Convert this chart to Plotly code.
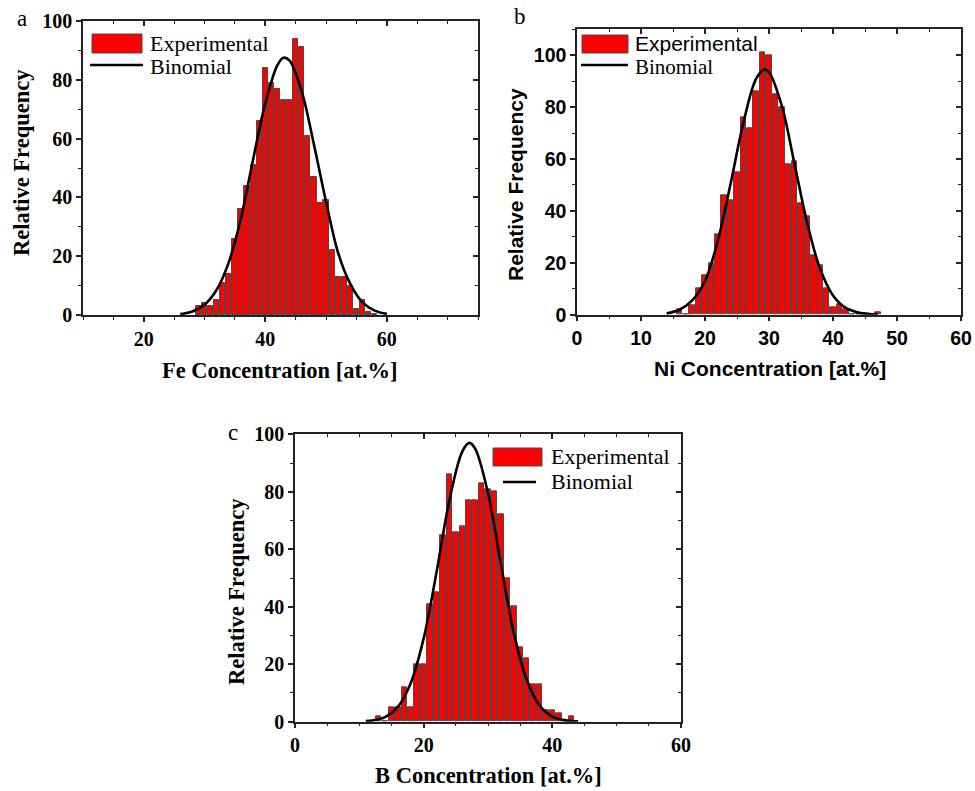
import plotly.graph_objects as go

# ---------------- data ----------------
fe_x = list(range(29, 59))
fe_y = [3, 4, 3, 5, 11, 14, 26, 36, 44, 51, 66, 84, 79, 77, 73, 73, 94, 91, 61, 47,
        38, 39, 22, 13, 13, 10, 2, 5, 1, 0.5]
fe_fit_x = [26, 28, 30, 32, 34, 36, 38, 40, 42, 43, 44, 46, 48, 50, 52, 54, 56, 58, 60]
fe_fit_y = [0.3, 1.2, 3.5, 8.6, 18, 33, 53, 72, 85, 87.5, 86.5, 76, 58, 38.5, 21, 10.5, 4.3, 1.5, 0.4]

ni_x = list(range(16, 48))
ni_y = [2, 0, 3.5, 10, 15, 20, 31, 46, 44, 55, 76, 72, 86, 101, 100, 85, 80, 58, 59, 43,
        38, 23, 19, 10, 3, 4, 2, 0, 0, 0, 0, 0.8]
ni_fit_x = [14, 16, 18, 20, 22, 24, 26, 28, 29.3, 30, 32, 34, 36, 38, 40, 42, 44, 46, 47]
ni_fit_y = [0.5, 1.9, 5.5, 13, 28.5, 50.5, 74, 91, 94.5, 93.5, 80.5, 58, 35, 17.6, 7.4, 2.6, 0.8, 0.2, 0.1]

b_x = list(range(13, 44))
b_y = [2, 0, 5, 5, 12, 5, 20, 20, 41, 45, 65, 86, 66, 68, 77, 77, 83, 81, 80, 72,
       50, 40, 26, 22, 13, 13, 4, 4, 3, 0, 2]
b_fit_x = [11, 12, 14, 16, 18, 20, 22, 24, 26, 27.1, 28, 30, 32, 34, 36, 38, 40, 42, 44]
b_fit_y = [0.2, 0.4, 1.6, 5.2, 13.5, 29, 52, 77, 94, 97, 95, 79.5, 55, 31, 14.7, 5.7, 1.8, 0.5, 0.1]

panel_labels = ["a", "b", "c"]
x_titles = ["Fe Concentration [at.%]", "Ni Concentration [at.%]", "B Concentration [at.%]"]
y_title = "Relative Frequency"
legend_names = ["Experimental", "Binomial"]

# ---------------- layout geometry ----------------
W, H = 975, 791
SERIF = "Liberation Serif"
SANS = "Liberation Sans"
AX = "#222222"


def px(xp):
    return xp / W


def py(yp):
    return 1 - yp / H


panels = [
    dict(bx=fe_x, by=fe_y, fx=fe_fit_x, fy=fe_fit_y,
         xdom=[px(83), px(478)], ydom=[py(315), py(21)],
         xr=[10, 75], xd=20, xm=5, yr=[0, 100], yd=20, ym=10, font=SERIF,
         tick=20, title=22.5, legsize=22,
         label=(22, 18), xt=(280, 370), yt=(22, 163),
         leg=dict(rect=(92, 34, 142, 53), line=(90, 143, 65), tx=148, ty1=43.5, ty2=66.5,
                  f1=SERIF, f2=SERIF)),
    dict(bx=ni_x, by=ni_y, fx=ni_fit_x, fy=ni_fit_y,
         xdom=[px(577), px(961)], ydom=[py(314.7), py(29.3)],
         xr=[0, 60], xd=10, xm=5, yr=[0, 110], yd=20, ym=10, font=SANS,
         tick=19.5, title=21, legsize=21,
         label=(520, 16), xt=(770, 368), yt=(516, 185),
         leg=dict(rect=(582, 35, 628, 53), line=(581, 628, 65), tx=633, ty1=43.5, ty2=66.5,
                  f1=SANS, f2=SERIF)),
    dict(bx=b_x, by=b_y, fx=b_fit_x, fy=b_fit_y,
         xdom=[px(295), px(681)], ydom=[py(721.7), py(434.3)],
         xr=[0, 60], xd=20, xm=5, yr=[0, 100], yd=20, ym=10, font=SERIF,
         tick=20, title=22.5, legsize=22,
         label=(233, 432), xt=(488, 775), yt=(236, 592),
         leg=dict(rect=(493, 448, 542, 466), line=(503, 536, 482), tx=549, ty1=456.5, ty2=481.5,
                  f1=SERIF, f2=SERIF)),
]

fig = go.Figure()
layout = dict(width=W, height=H, margin=dict(l=0, r=0, t=0, b=0, autoexpand=False),
              paper_bgcolor="white", plot_bgcolor="white", showlegend=False,
              bargap=0)
shapes = []
annotations = []

for i, p in enumerate(panels):
    n = i + 1
    m = i + 4
    xa = "x" if n == 1 else f"x{n}"
    ya = "y" if n == 1 else f"y{n}"
    xk = "xaxis" if n == 1 else f"xaxis{n}"
    yk = "yaxis" if n == 1 else f"yaxis{n}"

    fig.add_trace(go.Bar(x=p["bx"], y=p["by"], width=0.86, xaxis=xa, yaxis=ya,
                         marker=dict(color="#ff0000", line=dict(color="#4a4a4a", width=1))))
    fig.add_trace(go.Scatter(x=p["fx"], y=p["fy"], mode="lines", xaxis=xa, yaxis=ya,
                             line=dict(color="black", width=2.6, shape="spline")))
    # invisible trace carrying the mirror (inside-tick) axes
    fig.add_trace(go.Scatter(x=p["fx"], y=p["fy"], mode="lines", xaxis=f"x{m}", yaxis=f"y{m}",
                             opacity=0, hoverinfo="skip"))

    tf = dict(family=p["font"], size=p["tick"], color="black", weight=700)
    common_x = dict(range=p["xr"], dtick=p["xd"], tick0=0, showgrid=False, zeroline=False,
                    automargin=False)
    common_y = dict(range=p["yr"], dtick=p["yd"], tick0=0, showgrid=False, zeroline=False,
                    automargin=False)

    layout[xk] = dict(domain=p["xdom"], anchor=ya, showline=True, linecolor=AX, linewidth=1.5,
                      mirror=True, ticks="outside", ticklen=5, tickwidth=1.5, tickcolor=AX,
                      tickfont=tf,
                      minor=dict(dtick=p["xm"], ticks="outside", ticklen=3, tickwidth=1.2,
                                 tickcolor=AX),
                      **common_x)
    layout[yk] = dict(domain=p["ydom"], anchor=xa, showline=True, linecolor=AX, linewidth=1.5,
                      mirror=True, ticks="outside", ticklen=5, tickwidth=1.5, tickcolor=AX,
                      tickfont=tf,
                      minor=dict(dtick=p["ym"], ticks="outside", ticklen=3, tickwidth=1.2,
                                 tickcolor=AX),
                      **common_y)
    layout[f"xaxis{m}"] = dict(overlaying=xa, side="top", anchor=f"y{m}", showline=False,
                               ticks="inside", ticklen=5, tickwidth=1.5, tickcolor=AX,
                               showticklabels=False,
                               minor=dict(dtick=p["xm"], ticks="inside", ticklen=3,
                                          tickwidth=1.2, tickcolor=AX),
                               **common_x)
    layout[f"yaxis{m}"] = dict(overlaying=ya, side="right", anchor=f"x{m}", showline=False,
                               ticks="inside", ticklen=5, tickwidth=1.5, tickcolor=AX,
                               showticklabels=False,
                               minor=dict(dtick=p["ym"], ticks="inside", ticklen=3,
                                          tickwidth=1.2, tickcolor=AX),
                               **common_y)

    def ann(text, xy, font, **kw):
        d = dict(text=text, x=px(xy[0]), y=py(xy[1]), xref="paper", yref="paper",
                 showarrow=False, xanchor="center", yanchor="middle", font=font)
        d.update(kw)
        annotations.append(d)

    ann(panel_labels[i], p["label"], dict(family=SERIF, size=23, color="black"))
    ann(x_titles[i], p["xt"], dict(family=p["font"], size=p["title"], color="black", weight=700))
    ann(y_title, p["yt"], dict(family=p["font"], size=p["title"], color="black", weight=700),
        textangle=-90)

    lg = p["leg"]
    x0, y0, x1, y1 = lg["rect"]
    shapes.append(dict(type="rect", xref="paper", yref="paper",
                       x0=px(x0), x1=px(x1), y0=py(y1), y1=py(y0),
                       fillcolor="#ff0000", line=dict(color="#4a4a4a", width=1)))
    lx0, lx1, ly = lg["line"]
    shapes.append(dict(type="line", xref="paper", yref="paper",
                       x0=px(lx0), x1=px(lx1), y0=py(ly), y1=py(ly),
                       line=dict(color="black", width=2.6)))
    ann(legend_names[0], (lg["tx"], lg["ty1"]),
        dict(family=lg["f1"], size=p["legsize"], color="black"), xanchor="left")
    ann(legend_names[1], (lg["tx"], lg["ty2"]),
        dict(family=lg["f2"], size=p["legsize"], color="black"), xanchor="left")

layout["shapes"] = shapes
layout["annotations"] = annotations
fig.update_layout(**layout)
fig.write_html("out.html", config={"displayModeBar": False},
               post_script="document.body.style.margin='0';document.body.style.overflow='hidden';")
